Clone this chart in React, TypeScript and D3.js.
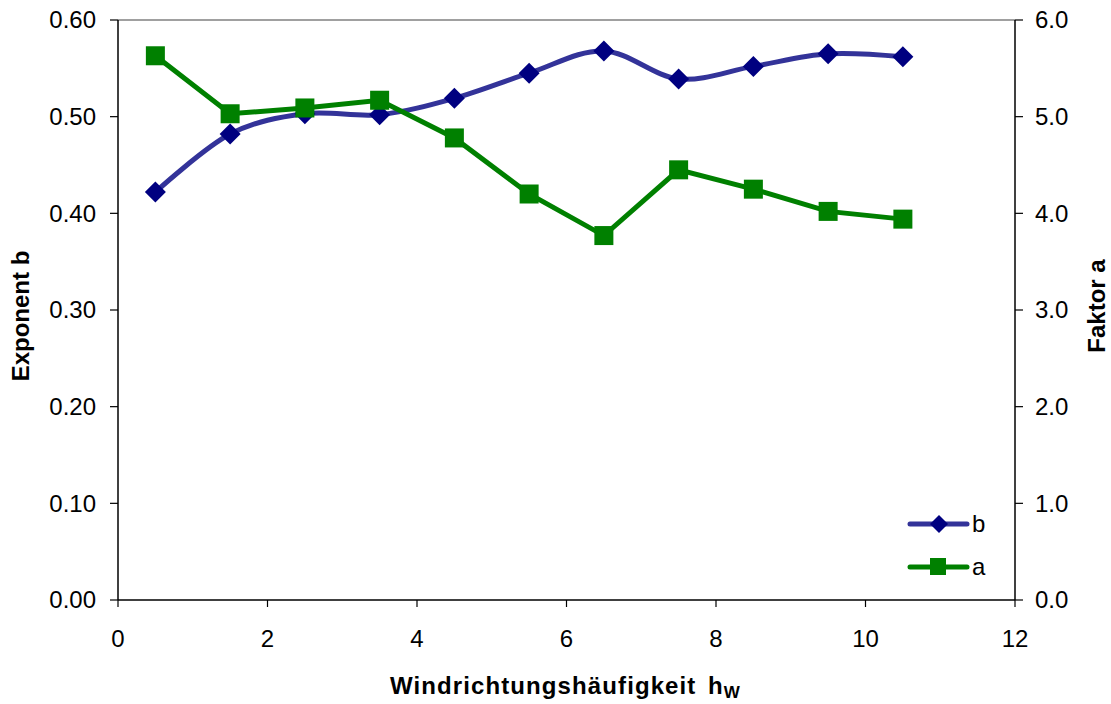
import React from "react";
import * as d3 from "d3";

const xValues = [0.5, 1.5, 2.5, 3.5, 4.5, 5.5, 6.5, 7.5, 8.5, 9.5, 10.5];
const bValues = [0.422, 0.482, 0.503, 0.502, 0.519, 0.545, 0.568, 0.539, 0.552, 0.565, 0.562];
const aValues = [5.63, 5.03, 5.09, 5.17, 4.78, 4.2, 3.77, 4.45, 4.25, 4.02, 3.94];
const xTicks = [0, 2, 4, 6, 8, 10, 12];
const leftTicks = [0, 0.1, 0.2, 0.3, 0.4, 0.5, 0.6];
const rightTicks = [0, 1, 2, 3, 4, 5, 6];

const W = 1111, H = 704;
const L = 118, R = 1015, T = 20, B = 600;
const FONT = "Liberation Sans, Arial, sans-serif";

export default function App() {
  const x = d3.scaleLinear().domain([0, 12]).range([L, R]);
  const yL = d3.scaleLinear().domain([0, 0.6]).range([B, T]);
  const yR = d3.scaleLinear().domain([0, 6]).range([B, T]);

  const bLine = d3.line<number>().x((_, i) => x(xValues[i])).y((d) => yL(d)).curve(d3.curveCatmullRom.alpha(0));
  const aLine = d3.line<number>().x((_, i) => x(xValues[i])).y((d) => yR(d));

  const diamond = (cx: number, cy: number, r: number) => `M${cx},${cy - r}L${cx + r},${cy}L${cx},${cy + r}L${cx - r},${cy}Z`;

  return (
    <svg width={W} height={H} style={{ position: "absolute", left: 0, top: 0, background: "#fff" }} fontFamily={FONT}>
      <rect x={0} y={0} width={W} height={H} fill="#fff" />
      {/* top border */}
      <line x1={L} x2={R} y1={T} y2={T} stroke="#808080" strokeWidth={1.5} />
      {/* axes */}
      <line x1={L} x2={L} y1={T} y2={B} stroke="#000" strokeWidth={1.5} />
      <line x1={R} x2={R} y1={T} y2={B} stroke="#000" strokeWidth={1.5} />
      <line x1={L} x2={R} y1={B} y2={B} stroke="#000" strokeWidth={1.5} />
      {leftTicks.map((t) => (
        <g key={"l" + t}>
          <line x1={L - 8} x2={L} y1={yL(t)} y2={yL(t)} stroke="#000" strokeWidth={1.2} />
          <text x={L - 22} y={yL(t)} dy="0.35em" textAnchor="end" fontSize={24}>{t.toFixed(2)}</text>
        </g>
      ))}
      {rightTicks.map((t) => (
        <g key={"r" + t}>
          <line x1={R} x2={R + 8} y1={yR(t)} y2={yR(t)} stroke="#000" strokeWidth={1.2} />
          <text x={R + 20} y={yR(t)} dy="0.35em" textAnchor="start" fontSize={24}>{t.toFixed(1)}</text>
        </g>
      ))}
      {xTicks.map((t) => (
        <g key={"x" + t}>
          <line x1={x(t)} x2={x(t)} y1={B} y2={B + 7} stroke="#000" strokeWidth={1.2} />
          <text x={x(t)} y={639} dy="0.35em" textAnchor="middle" fontSize={24}>{t}</text>
        </g>
      ))}
      {/* axis titles */}
      <text transform={`translate(29,316) rotate(-90)`} textAnchor="middle" fontSize={24} fontWeight="bold">Exponent b</text>
      <text transform={`translate(1105,306) rotate(-90)`} textAnchor="middle" fontSize={24} fontWeight="bold">Faktor a</text>
      <text x={390} y={694} textAnchor="start" fontSize={24} fontWeight="bold" letterSpacing={1.1}>
        Windrichtungshäufigkeit
        <tspan x={708}>h</tspan>
        <tspan fontSize={17} dy={4} letterSpacing={0}>W</tspan>
      </text>
      {/* series */}
      <path d={bLine(bValues) || ""} fill="none" stroke="#333399" strokeWidth={5} />
      <path d={aLine(aValues) || ""} fill="none" stroke="#008000" strokeWidth={5} />
      {bValues.map((v, i) => (
        <path key={"bm" + i} d={diamond(x(xValues[i]), yL(v), 10.5)} fill="#000080" />
      ))}
      {aValues.map((v, i) => (
        <rect key={"am" + i} x={x(xValues[i]) - 9.5} y={yR(v) - 9.5} width={19} height={19} fill="#008000" />
      ))}
      {/* legend */}
      <line x1={910} x2={967} y1={524} y2={524} stroke="#333399" strokeWidth={5} strokeLinecap="round" />
      <path d={diamond(939, 524, 9)} fill="#000080" />
      <text x={972} y={524} dy="0.35em" fontSize={24}>b</text>
      <line x1={910} x2={967} y1={567} y2={567} stroke="#008000" strokeWidth={5} strokeLinecap="round" />
      <rect x={930} y={558} width={16} height={17} fill="#008000" />
      <text x={972} y={567} dy="0.35em" fontSize={24}>a</text>
    </svg>
  );
}
